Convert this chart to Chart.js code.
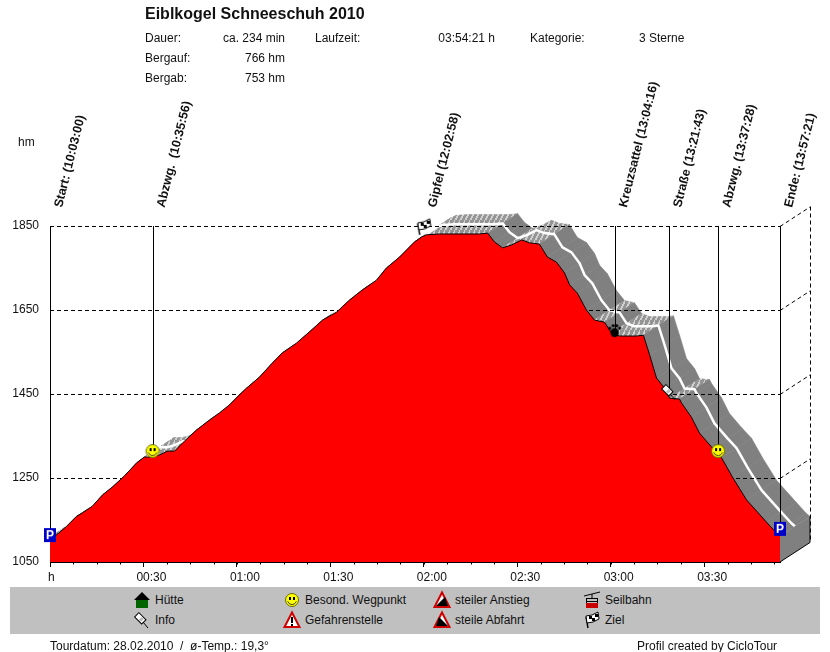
<!DOCTYPE html>
<html>
<head>
<meta charset="utf-8">
<title>Eiblkogel Schneeschuh 2010</title>
<script src="https://cdn.jsdelivr.net/npm/chart.js@4"></script>
<style>
body { margin: 0; background: #fff; }
#grafico { position: absolute; left: 0; top: 0; }
.t { position: absolute; font: 12px "Liberation Sans", Arial, sans-serif; line-height: 14px; color: #111; white-space: pre; }
.r { text-align: right; }
.titulo { font-weight: bold; font-size: 16px; line-height: 18px; left: 145px; top: 5px; }
#banda { position: absolute; left: 10px; top: 587px; width: 810px; height: 47px; background: #c0c0c0; }
.icono { position: absolute; }
</style>
</head>
<body>
<canvas id="grafico" width="830" height="652"></canvas>

<div class="t titulo">Eiblkogel Schneeschuh 2010</div>
<div class="t" style="left:145px;top:31px">Dauer:</div>
<div class="t r" style="left:185px;width:100px;top:31px">ca. 234 min</div>
<div class="t" style="left:315px;top:31px">Laufzeit:</div>
<div class="t r" style="left:395px;width:100px;top:31px">03:54:21 h</div>
<div class="t" style="left:530px;top:31px">Kategorie:</div>
<div class="t" style="left:639px;top:31px">3 Sterne</div>
<div class="t" style="left:145px;top:51px">Bergauf:</div>
<div class="t r" style="left:185px;width:100px;top:51px">766 hm</div>
<div class="t" style="left:145px;top:71px">Bergab:</div>
<div class="t r" style="left:185px;width:100px;top:71px">753 hm</div>
<div class="t" style="left:18px;top:135px">hm</div>
<div class="t" style="left:48px;top:570px">h</div>

<div id="banda"></div>
<canvas class="icono" data-icon="huette" width="20" height="20" style="left:132px;top:590px"></canvas>
<div class="t" style="left:155px;top:593px">Hütte</div>
<canvas class="icono" data-icon="pin" width="20" height="20" style="left:132px;top:610px"></canvas>
<div class="t" style="left:155px;top:613px">Info</div>
<canvas class="icono" data-icon="smile" width="20" height="20" style="left:282px;top:590px"></canvas>
<div class="t" style="left:305px;top:593px">Besond. Wegpunkt</div>
<canvas class="icono" data-icon="gefahr" width="20" height="20" style="left:282px;top:610px"></canvas>
<div class="t" style="left:305px;top:613px">Gefahrenstelle</div>
<canvas class="icono" data-icon="anstieg" width="20" height="20" style="left:432px;top:590px"></canvas>
<div class="t" style="left:455px;top:593px">steiler Anstieg</div>
<canvas class="icono" data-icon="abfahrt" width="20" height="20" style="left:432px;top:610px"></canvas>
<div class="t" style="left:455px;top:613px">steile Abfahrt</div>
<canvas class="icono" data-icon="seilbahn" width="20" height="20" style="left:582px;top:590px"></canvas>
<div class="t" style="left:605px;top:593px">Seilbahn</div>
<canvas class="icono" data-icon="flagge" width="20" height="20" style="left:582px;top:610px"></canvas>
<div class="t" style="left:605px;top:613px">Ziel</div>

<div class="t" style="left:50px;top:639px">Tourdatum: 28.02.2010  /  ø-Temp.: 19,3°</div>
<div class="t" style="left:637px;top:639px">Profil created by CicloTour</div>

<script>
// profile: minutes since start / height in hm
const minutos = [0, 2, 5.2, 8.4, 10.4, 13.6, 16.9, 20.1, 23.9, 27.8, 30.3, 32.9, 35.2, 37.7, 40, 42.5, 47, 51.2, 54.4, 57.6,
    60.8, 63.1, 67.2, 71.4, 74.6, 79.1, 83.3, 87.5, 92, 96.2, 100.3, 104.8, 108, 112.2, 115.4, 117, 119.3, 120.9, 125, 137.9,
    140.5, 142.7, 145.3, 148.2, 151.4, 153.9, 157.1, 159.7, 162.6, 165.2, 166.8, 169.3, 172.2, 174.8, 178, 180.3, 182.8, 188.3, 190.5, 192.5,
    194.7, 197.3, 198.9, 202.1, 202.7, 205.9, 208.5, 212.7, 215.6, 219.1, 223.6, 230, 233.2, 234.35];
const alturas = [1110, 1114, 1134, 1158, 1167, 1183, 1210, 1229, 1255, 1286, 1300, 1300, 1305, 1314, 1314, 1333, 1364, 1388, 1405, 1424,
    1448, 1464, 1490, 1524, 1548, 1571, 1598, 1626, 1645, 1674, 1698, 1721, 1750, 1776, 1800, 1812, 1824, 1829, 1831, 1831,
    1833, 1812, 1798, 1805, 1817, 1810, 1807, 1776, 1764, 1738, 1710, 1690, 1650, 1626, 1621, 1595, 1588, 1588, 1590, 1543,
    1488, 1464, 1440, 1438, 1429, 1395, 1357, 1321, 1298, 1252, 1198, 1145, 1119, 1112];

const yTicks = [1050, 1250, 1450, 1650, 1850];
const xTicks = [0, 30, 60, 90, 120, 150, 180, 210];
const xEtiquetas = ['', '00:30', '01:00', '01:30', '02:00', '02:30', '03:00', '03:30'];

const puntosNombres = ['Start: (10:03:00)', 'Abzwg.  (10:35:56)', 'Gipfel (12:02:58)', 'Kreuzsattel (13:04:16)', 'Straße (13:21:43)', 'Abzwg. (13:37:28)', 'Ende: (13:57:21)'];
const puntosMinutos = [0, 32.93, 119.97, 181.27, 198.72, 214.47, 234.35];
const puntosAltura = [1114, 1314, 1848, 1602, 1455, 1314, 1129];
const puntosIconos = ['parken', 'smile', 'flagge', 'pfote', 'pin', 'smile', 'parken'];

const fondo3dX = 30;
const fondo3dY = -19.5;

const iconos = {
    parken(c) {
        c.fillStyle = '#0000c8';
        c.fillRect(4, 3, 12, 14);
        c.fillStyle = '#fff';
        c.font = 'bold 12px "Liberation Sans"';
        c.textAlign = 'center';
        c.textBaseline = 'middle';
        c.fillText('P', 10, 10.5);
    },
    smile(c) {
        c.fillStyle = '#ffff00';
        c.strokeStyle = '#6b6b00';
        c.beginPath();
        c.arc(10, 10, 6.5, 0, Math.PI * 2);
        c.fill();
        c.stroke();
        c.fillStyle = '#000';
        c.fillRect(7, 7, 2, 3);
        c.fillRect(11, 7, 2, 3);
        c.strokeStyle = '#333';
        c.beginPath();
        c.arc(10, 10, 4.5, 0.3, Math.PI - 0.3);
        c.stroke();
    },
    flagge(c) {
        c.strokeStyle = '#000';
        c.lineWidth = 1.4;
        c.beginPath();
        c.moveTo(6, 18);
        c.lineTo(4, 7);
        c.stroke();
        c.lineWidth = 1;
        c.fillStyle = '#fff';
        c.beginPath();
        c.moveTo(4, 6);
        c.lineTo(10, 5);
        c.lineTo(16, 2);
        c.lineTo(17, 9);
        c.lineTo(11, 12);
        c.lineTo(5, 13);
        c.closePath();
        c.fill();
        c.stroke();
        c.fillStyle = '#000';
        c.fillRect(7, 6, 3, 3);
        c.fillRect(13, 4, 3, 3);
        c.fillRect(10, 8, 3, 3);
    },
    pfote(c) {
        c.fillStyle = '#000';
        c.beginPath();
        c.ellipse(10, 12.5, 4.2, 4.5, 0, 0, Math.PI * 2);
        c.fill();
        [[5, 8], [8.5, 5.5], [12, 5.5], [15, 8]].forEach(p => {
            c.beginPath();
            c.arc(p[0], p[1], 1.6, 0, Math.PI * 2);
            c.fill();
        });
    },
    pin(c) {
        c.strokeStyle = '#000';
        c.fillStyle = '#fff';
        c.beginPath();
        c.moveTo(11, 12);
        c.lineTo(16, 18);
        c.stroke();
        c.translate(9, 9);
        c.rotate(-Math.PI / 4);
        c.fillRect(-3, -6, 6, 10);
        c.strokeRect(-3, -6, 6, 10);
        c.fillStyle = '#bbb';
        c.fillRect(-2, -1, 4, 3);
        c.setTransform(1, 0, 0, 1, 0, 0);
    },
    huette(c) {
        c.fillStyle = '#006400';
        c.fillRect(4, 10, 12, 8);
        c.fillStyle = '#000';
        c.beginPath();
        c.moveTo(10, 2);
        c.lineTo(18, 10);
        c.lineTo(2, 10);
        c.closePath();
        c.fill();
    },
    gefahr(c) {
        triangulo(c);
        c.fillStyle = '#000';
        c.fillRect(9, 7, 2, 6);
        c.fillRect(9, 14, 2, 2);
    },
    anstieg(c) {
        triangulo(c);
        keil(c, 13);
    },
    abfahrt(c) {
        triangulo(c);
        keil(c, 7);
    },
    seilbahn(c) {
        c.strokeStyle = '#000';
        c.fillStyle = '#c80000';
        c.beginPath();
        c.moveTo(2, 6);
        c.lineTo(18, 2);
        c.moveTo(10, 4);
        c.lineTo(10, 8);
        c.stroke();
        c.strokeRect(4.5, 8.5, 11, 9);
        c.fillRect(4, 13, 12, 5);
        c.fillStyle = '#000';
        c.fillRect(4, 11, 12, 1);
    }
};

function triangulo(c) {
    c.fillStyle = '#fff';
    c.strokeStyle = '#d00000';
    c.lineWidth = 2;
    c.beginPath();
    c.moveTo(10, 2.5);
    c.lineTo(17.5, 17);
    c.lineTo(2.5, 17);
    c.closePath();
    c.fill();
    c.stroke();
    c.lineWidth = 1;
}

function keil(c, picoX) {
    c.fillStyle = '#000';
    c.beginPath();
    c.moveTo(picoX, 7);
    c.lineTo(16, 16);
    c.lineTo(4, 16);
    c.closePath();
    c.fill();
}

function crearIcono(nombre) {
    const lienzo = document.createElement('canvas');
    lienzo.width = 20;
    lienzo.height = 20;
    iconos[nombre](lienzo.getContext('2d'));
    return lienzo;
}

document.querySelectorAll('[data-icon]').forEach(el => {
    iconos[el.dataset.icon](el.getContext('2d'));
});

function crearRayado() {
    const lienzo = document.createElement('canvas');
    lienzo.width = 5;
    lienzo.height = 10;
    const c = lienzo.getContext('2d');
    c.fillStyle = '#949494';
    c.fillRect(0, 0, 5, 10);
    c.fillStyle = '#d0d0d0';
    for (let i = 0; i < 10; i++) {
        c.fillRect(4 - Math.floor(i / 2), i, 2, 1);
    }
    return lienzo;
}

// the grey 3D band behind the profile, walls and back grid
const plugin3d = {
    id: 'plugin3d',
    beforeDraw(chart) {
        const { ctx, scales: { x, y } } = chart;
        const rayado = ctx.createPattern(crearRayado(), 'repeat');
        const px = minutos.map(m => x.getPixelForValue(m));
        const py = alturas.map(a => y.getPixelForValue(a));
        ctx.save();

        ctx.strokeStyle = '#000';
        ctx.lineWidth = 1;
        ctx.setLineDash([4, 3]);
        yTicks.slice(1).forEach(v => {
            const yy = Math.round(y.getPixelForValue(v)) + 0.5;
            ctx.beginPath();
            ctx.moveTo(x.right, yy);
            ctx.lineTo(x.right + fondo3dX, yy + fondo3dY);
            ctx.stroke();
        });
        ctx.beginPath();
        ctx.moveTo(x.right + fondo3dX + 0.5, y.top + fondo3dY);
        ctx.lineTo(x.right + fondo3dX + 0.5, y.bottom + fondo3dY);
        ctx.stroke();
        ctx.setLineDash([]);

        for (let i = 0; i < px.length - 1; i++) {
            const pendiente = Math.abs((py[i + 1] - py[i]) / (px[i + 1] - px[i]));
            const color = pendiente < 0.55 ? rayado : '#808080';
            ctx.fillStyle = color;
            ctx.strokeStyle = color;
            ctx.lineWidth = 0.6;
            ctx.beginPath();
            ctx.moveTo(px[i], py[i]);
            ctx.lineTo(px[i + 1], py[i + 1]);
            ctx.lineTo(px[i + 1] + fondo3dX, py[i + 1] + fondo3dY);
            ctx.lineTo(px[i] + fondo3dX, py[i] + fondo3dY);
            ctx.closePath();
            ctx.fill();
            ctx.stroke();
        }

        ctx.strokeStyle = '#fff';
        ctx.lineWidth = 2.5;
        ctx.lineJoin = 'round';
        ctx.beginPath();
        px.forEach((p, i) => {
            ctx.lineTo(p + fondo3dX / 2, py[i] + fondo3dY / 2);
        });
        ctx.stroke();

        // end wall
        const fin = px.length - 1;
        ctx.fillStyle = '#808080';
        ctx.strokeStyle = '#000';
        ctx.lineWidth = 1;
        ctx.beginPath();
        ctx.moveTo(x.right, y.bottom);
        ctx.lineTo(x.right + fondo3dX, y.bottom + fondo3dY);
        ctx.lineTo(x.right + fondo3dX, py[fin] + fondo3dY);
        ctx.lineTo(x.right, py[fin]);
        ctx.closePath();
        ctx.fill();
        ctx.beginPath();
        ctx.moveTo(x.right, y.bottom);
        ctx.lineTo(x.right + fondo3dX, y.bottom + fondo3dY);
        ctx.lineTo(x.right + fondo3dX, py[fin] + fondo3dY);
        ctx.stroke();
        ctx.restore();
    },
    beforeDatasetsDraw(chart) {
        const { ctx, scales: { x, y } } = chart;
        ctx.save();
        ctx.strokeStyle = '#000';
        ctx.lineWidth = 1;
        puntosMinutos.forEach((m, i) => {
            const xx = Math.round(x.getPixelForValue(m)) + 0.5;
            ctx.beginPath();
            ctx.moveTo(xx, y.top);
            ctx.lineTo(xx, y.getPixelForValue(puntosAltura[i]));
            ctx.stroke();
        });
        ctx.restore();
    },
    afterDraw(chart) {
        const { ctx, scales: { x, y } } = chart;
        ctx.save();
        // small ticks every 7.5 minutes
        ctx.strokeStyle = '#000';
        ctx.lineWidth = 1;
        for (let m = 7.5; m < 234; m += 7.5) {
            const xx = Math.round(x.getPixelForValue(m)) + 0.5;
            ctx.beginPath();
            ctx.moveTo(xx, y.bottom);
            ctx.lineTo(xx, y.bottom + 2.5);
            ctx.stroke();
        }
        ctx.fillStyle = '#111';
        ctx.font = 'bold 12.5px "Liberation Sans"';
        puntosNombres.forEach((nombre, i) => {
            ctx.save();
            ctx.translate(x.getPixelForValue(puntosMinutos[i]) + 12, 208);
            ctx.rotate(-76 * Math.PI / 180);
            ctx.fillText(nombre, 0, 0);
            ctx.restore();
        });
        ctx.restore();
    }
};

new Chart(document.getElementById('grafico').getContext('2d'), {
    type: 'line',
    data: {
        datasets: [{
            data: puntosMinutos.map((m, i) => ({ x: m, y: puntosAltura[i] })),
            showLine: false,
            pointStyle: puntosIconos.map(crearIcono),
            pointRadius: 10,
            clip: false,
            order: 1
        }, {
            data: minutos.map((m, i) => ({ x: m, y: alturas[i] })),
            borderColor: '#000',
            borderWidth: 1,
            backgroundColor: '#ff0000',
            fill: 'origin',
            pointRadius: 0,
            tension: 0,
            order: 2
        }]
    },
    options: {
        responsive: false,
        animation: false,
        devicePixelRatio: 1,
        layout: { padding: { top: 226, right: 50, bottom: 0, left: 0 } },
        plugins: { legend: { display: false }, tooltip: { enabled: false } },
        scales: {
            x: {
                type: 'linear',
                min: 0,
                max: 234.35,
                afterFit(scale) { scale.height = 90; },
                afterBuildTicks(scale) { scale.ticks = xTicks.map(v => ({ value: v })); },
                grid: { display: true, drawOnChartArea: false, tickLength: 5, tickColor: '#000' },
                border: { display: true, color: '#000' },
                ticks: {
                    autoSkip: false,
                    maxRotation: 0,
                    padding: 3,
                    labelOffset: 8,
                    color: '#111',
                    font: { family: '"Liberation Sans"', size: 12 },
                    callback: (v, i) => xEtiquetas[i]
                }
            },
            y: {
                min: 1050,
                max: 1850,
                afterFit(scale) { scale.width = 50; },
                afterBuildTicks(scale) { scale.ticks = yTicks.map(v => ({ value: v })); },
                grid: { color: '#000', drawTicks: false },
                border: { display: false, dash: [4, 3] },
                ticks: {
                    padding: 11,
                    color: '#111',
                    font: { family: '"Liberation Sans"', size: 12 },
                    callback: v => String(v)
                }
            }
        }
    },
    plugins: [plugin3d]
});
</script>
</body>
</html>
